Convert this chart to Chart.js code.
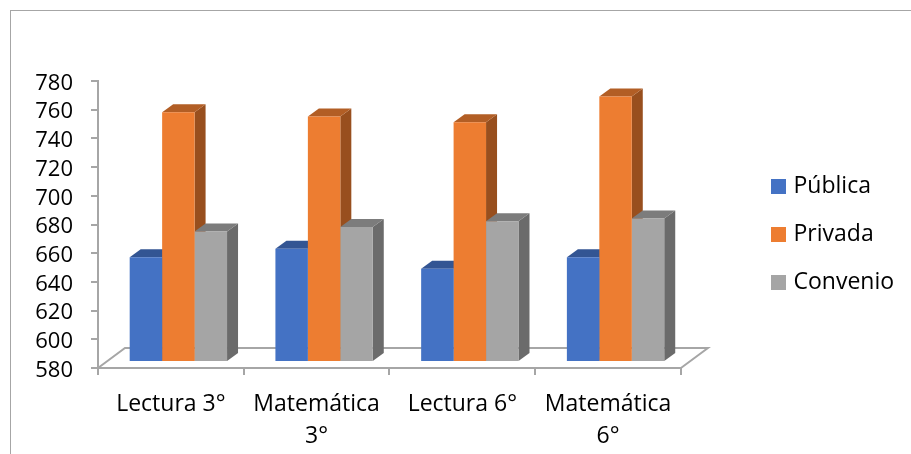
<!DOCTYPE html>
<html>
<head>
<meta charset="utf-8">
<title>Puntajes por sector</title>
<script src="https://cdn.jsdelivr.net/npm/chart.js@4"></script>
<style>
    body { margin: 0; background: #fff; overflow: hidden; }
    #frame { position: absolute; left: 10px; top: 10px; right: 0; bottom: 0; border-top: 1.5px solid #a6a6a6; border-left: 1.5px solid #a6a6a6; }
    canvas { position: absolute; left: 0; top: 0; }
</style>
</head>
<body>
<div id="frame"></div>
<canvas id="scoreChart" width="911" height="454"></canvas>
<script>
const categories = ['Lectura 3°', ['Matemática', '3°'], 'Lectura 6°', ['Matemática', '6°']];
const publica = [653, 659, 645, 653];
const privada = [754, 751, 747, 765];
const convenio = [671, 674, 678, 680];
const yTicks = { min: 580, max: 780, step: 20 };

const axisColor = '#a6a6a6';
const fontFamily = '"Open Sans", sans-serif';

// depth of the floor and of each bar, in pixels
const floorDepth = { x: 27, y: 20 };
const barDepth = { x: 11, y: 8 };
const barShift = { x: 7.5, y: -6 };

const faceColors = [
    { top: '#335593', side: '#2f4f88' },
    { top: '#b25e25', side: '#984f1e' },
    { top: '#7c7c7c', side: '#6b6b6b' },
];

function fillFace(ctx, color, pts) {
    ctx.fillStyle = color;
    ctx.beginPath();
    pts.forEach((p, i) => (i ? ctx.lineTo(p[0], p[1]) : ctx.moveTo(p[0], p[1])));
    ctx.closePath();
    ctx.fill();
}

const fake3d = {
    id: 'fake3d',
    afterLayout(chart) {
        chart.legend.left = 750;
        chart.legend.right = chart.width;
        chart.legend.top = 150;
        // y labels sit a little under their tick in the original
        chart.scales.y.getLabelItems().forEach(item => { item.options.translation[1] += 2.5; });
    },
    beforeDatasetsDraw(chart) {
        const ctx = chart.ctx;
        const { left, right, bottom } = chart.chartArea;

        // floor
        ctx.save();
        ctx.strokeStyle = axisColor;
        ctx.lineWidth = 2;
        ctx.beginPath();
        ctx.moveTo(left, bottom);
        ctx.lineTo(left + floorDepth.x, bottom - floorDepth.y);
        ctx.lineTo(right + floorDepth.x, bottom - floorDepth.y);
        ctx.lineTo(right, bottom);
        ctx.stroke();

        // side and top of the bars, fronts are drawn by the library afterwards
        ctx.translate(barShift.x, barShift.y);
        chart.data.datasets.forEach((ds, d) => {
            chart.getDatasetMeta(d).data.forEach(bar => {
                const { x, y, base, width } = bar.getProps(['x', 'y', 'base', 'width'], true);
                const r = x + width / 2;
                const l = x - width / 2;
                fillFace(ctx, faceColors[d].side, [[r, y], [r + barDepth.x, y - barDepth.y], [r + barDepth.x, base - barDepth.y], [r, base]]);
                fillFace(ctx, faceColors[d].top, [[l, y], [l + barDepth.x, y - barDepth.y], [r + barDepth.x, y - barDepth.y], [r, y]]);
            });
        });
        ctx.restore();

        ctx.save();
        ctx.translate(barShift.x, barShift.y);
    },
    afterDatasetsDraw(chart) {
        chart.ctx.restore();
    },
};

const ctx = document.getElementById('scoreChart').getContext('2d');
const scoreChart = new Chart(ctx, {
    type: 'bar',
    data: {
        labels: categories,
        datasets: [
            { label: 'Pública', data: publica, backgroundColor: '#4472c4' },
            { label: 'Privada', data: privada, backgroundColor: '#ed7d31' },
            { label: 'Convenio', data: convenio, backgroundColor: '#a5a5a5' },
        ],
    },
    options: {
        responsive: false,
        animation: false,
        layout: { padding: { top: 81, left: 0, right: 76, bottom: 0 } },
        datasets: { bar: { categoryPercentage: 0.668, barPercentage: 1, base: yTicks.min } },
        plugins: {
            tooltip: { enabled: false },
            legend: {
                position: 'right',
                align: 'start',
                labels: {
                    // small box with a thick same-colour stroke, keeps the text close to the swatch
                    boxWidth: 7,
                    boxHeight: 7,
                    padding: 25,
                    color: '#000',
                    font: { family: fontFamily, size: 23 },
                    generateLabels(chart) {
                        return Chart.defaults.plugins.legend.labels.generateLabels(chart).map(item => ({
                            ...item,
                            lineWidth: 8,
                            strokeStyle: item.fillStyle,
                        }));
                    },
                },
            },
        },
        scales: {
            x: {
                afterFit(scale) { scale.height = 86; },
                grid: { drawOnChartArea: false, color: axisColor, lineWidth: 2, tickLength: 7, offset: true },
                border: { color: axisColor, width: 2 },
                ticks: { color: '#000', font: { family: fontFamily, size: 23, lineHeight: 1.4 }, padding: 13, maxRotation: 0, autoSkip: false },
            },
            y: {
                min: yTicks.min,
                max: yTicks.max,
                afterFit(scale) { scale.width = 98; },
                grid: { drawOnChartArea: false, color: axisColor, lineWidth: 2, tickLength: 7 },
                border: { color: axisColor, width: 2 },
                ticks: { stepSize: yTicks.step, autoSkip: false, color: '#000', font: { family: fontFamily, size: 22 }, padding: 18 },
            },
        },
    },
    plugins: [fake3d],
});
</script>
</body>
</html>
